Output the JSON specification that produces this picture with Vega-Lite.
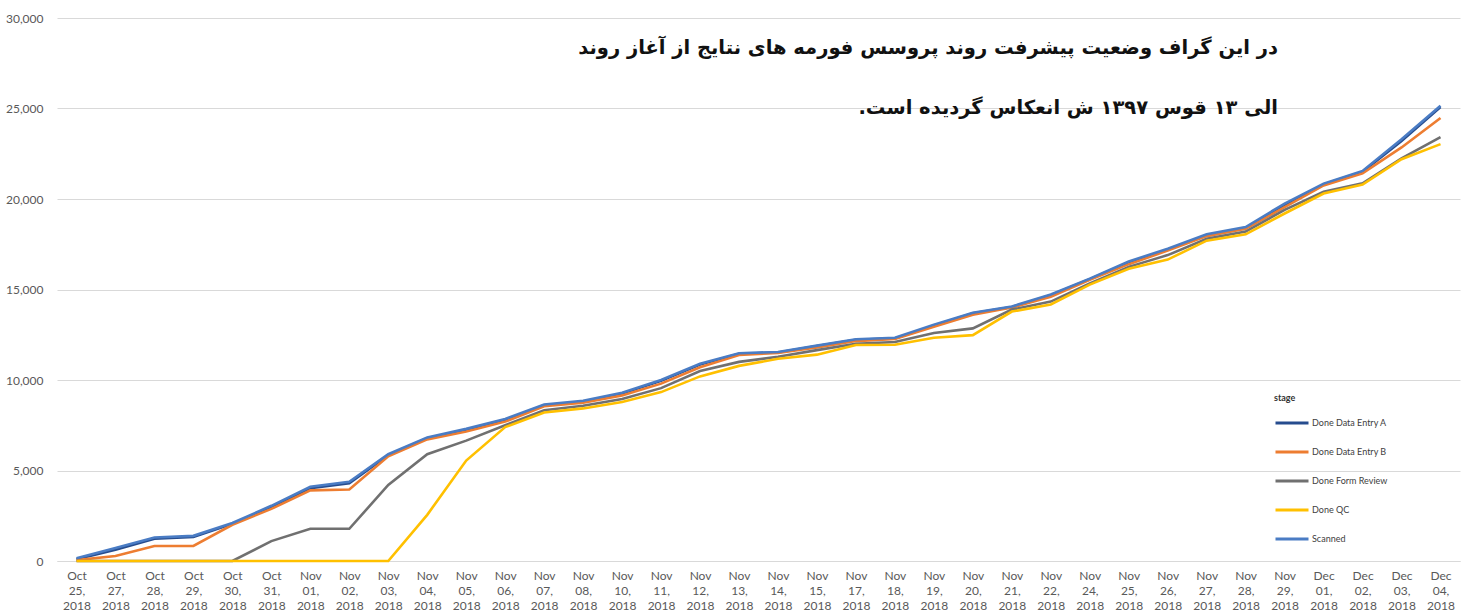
{
  "$schema": "https://vega.github.io/schema/vega-lite/v6.json",
  "width": 1464,
  "height": 613,
  "autosize": {"type": "fit", "contains": "padding"},
  "padding": {"left": 5, "top": 12, "right": 4, "bottom": 2},
  "background": "white",
  "title": {
    "text": ["در این گراف وضعیت پیشرفت روند پروسس فورمه های نتایج از آغاز روند", "الی ۱۳ قوس ۱۳۹۷ ش انعکاس گردیده است.\u200f"],
    "orient": "top",
    "anchor": "end",
    "frame": "group",
    "align": "right",
    "baseline": "top",
    "offset": -106,
    "dx": -182,
    "lineHeight": 60,
    "font": "DejaVu Sans",
    "fontSize": 19.5,
    "fontWeight": "bold",
    "color": "#111111"
  },
  "data": {
    "values": [
      {"date": "Oct 25, 2018", "Done Data Entry A": 100, "Done Data Entry B": 50, "Done Form Review": 0, "Done QC": 0, "Scanned": 150},
      {"date": "Oct 27, 2018", "Done Data Entry A": 620, "Done Data Entry B": 280, "Done Form Review": 0, "Done QC": 0, "Scanned": 720},
      {"date": "Oct 28, 2018", "Done Data Entry A": 1230, "Done Data Entry B": 830, "Done Form Review": 0, "Done QC": 0, "Scanned": 1300},
      {"date": "Oct 29, 2018", "Done Data Entry A": 1330, "Done Data Entry B": 830, "Done Form Review": 0, "Done QC": 0, "Scanned": 1390},
      {"date": "Oct 30, 2018", "Done Data Entry A": 2050, "Done Data Entry B": 2000, "Done Form Review": 0, "Done QC": 0, "Scanned": 2100},
      {"date": "Oct 31, 2018", "Done Data Entry A": 2980, "Done Data Entry B": 2880, "Done Form Review": 1100, "Done QC": 0, "Scanned": 3050},
      {"date": "Nov 01, 2018", "Done Data Entry A": 4020, "Done Data Entry B": 3900, "Done Form Review": 1780, "Done QC": 0, "Scanned": 4100},
      {"date": "Nov 02, 2018", "Done Data Entry A": 4300, "Done Data Entry B": 3950, "Done Form Review": 1780, "Done QC": 0, "Scanned": 4380},
      {"date": "Nov 03, 2018", "Done Data Entry A": 5850, "Done Data Entry B": 5780, "Done Form Review": 4200, "Done QC": 0, "Scanned": 5900},
      {"date": "Nov 04, 2018", "Done Data Entry A": 6780, "Done Data Entry B": 6720, "Done Form Review": 5900, "Done QC": 2550, "Scanned": 6830},
      {"date": "Nov 05, 2018", "Done Data Entry A": 7250, "Done Data Entry B": 7150, "Done Form Review": 6650, "Done QC": 5550, "Scanned": 7300},
      {"date": "Nov 06, 2018", "Done Data Entry A": 7800, "Done Data Entry B": 7700, "Done Form Review": 7500, "Done QC": 7400, "Scanned": 7850},
      {"date": "Nov 07, 2018", "Done Data Entry A": 8600, "Done Data Entry B": 8550, "Done Form Review": 8330, "Done QC": 8200, "Scanned": 8650},
      {"date": "Nov 08, 2018", "Done Data Entry A": 8800, "Done Data Entry B": 8750, "Done Form Review": 8580, "Done QC": 8430, "Scanned": 8850},
      {"date": "Nov 10, 2018", "Done Data Entry A": 9250, "Done Data Entry B": 9150, "Done Form Review": 8950, "Done QC": 8780, "Scanned": 9300},
      {"date": "Nov 11, 2018", "Done Data Entry A": 9950, "Done Data Entry B": 9800, "Done Form Review": 9550, "Done QC": 9330, "Scanned": 10000},
      {"date": "Nov 12, 2018", "Done Data Entry A": 10850, "Done Data Entry B": 10700, "Done Form Review": 10500, "Done QC": 10200, "Scanned": 10900},
      {"date": "Nov 13, 2018", "Done Data Entry A": 11450, "Done Data Entry B": 11380, "Done Form Review": 11000, "Done QC": 10780, "Scanned": 11480},
      {"date": "Nov 14, 2018", "Done Data Entry A": 11520, "Done Data Entry B": 11500, "Done Form Review": 11280, "Done QC": 11170, "Scanned": 11550},
      {"date": "Nov 15, 2018", "Done Data Entry A": 11870, "Done Data Entry B": 11800, "Done Form Review": 11650, "Done QC": 11400, "Scanned": 11900},
      {"date": "Nov 17, 2018", "Done Data Entry A": 12220, "Done Data Entry B": 12150, "Done Form Review": 12000, "Done QC": 11930, "Scanned": 12250},
      {"date": "Nov 18, 2018", "Done Data Entry A": 12300, "Done Data Entry B": 12270, "Done Form Review": 12100, "Done QC": 11950, "Scanned": 12330},
      {"date": "Nov 19, 2018", "Done Data Entry A": 13000, "Done Data Entry B": 12940, "Done Form Review": 12600, "Done QC": 12330, "Scanned": 13060},
      {"date": "Nov 20, 2018", "Done Data Entry A": 13680, "Done Data Entry B": 13600, "Done Form Review": 12850, "Done QC": 12480, "Scanned": 13720},
      {"date": "Nov 21, 2018", "Done Data Entry A": 14030, "Done Data Entry B": 14000, "Done Form Review": 13890, "Done QC": 13780, "Scanned": 14060},
      {"date": "Nov 22, 2018", "Done Data Entry A": 14680, "Done Data Entry B": 14600, "Done Form Review": 14330, "Done QC": 14170, "Scanned": 14720},
      {"date": "Nov 24, 2018", "Done Data Entry A": 15570, "Done Data Entry B": 15530, "Done Form Review": 15330, "Done QC": 15270, "Scanned": 15600},
      {"date": "Nov 25, 2018", "Done Data Entry A": 16500, "Done Data Entry B": 16400, "Done Form Review": 16250, "Done QC": 16150, "Scanned": 16550},
      {"date": "Nov 26, 2018", "Done Data Entry A": 17200, "Done Data Entry B": 17150, "Done Form Review": 16900, "Done QC": 16650, "Scanned": 17250},
      {"date": "Nov 27, 2018", "Done Data Entry A": 18000, "Done Data Entry B": 17950, "Done Form Review": 17800, "Done QC": 17700, "Scanned": 18050},
      {"date": "Nov 28, 2018", "Done Data Entry A": 18400, "Done Data Entry B": 18350, "Done Form Review": 18200, "Done QC": 18050, "Scanned": 18450},
      {"date": "Nov 29, 2018", "Done Data Entry A": 19650, "Done Data Entry B": 19550, "Done Form Review": 19400, "Done QC": 19200, "Scanned": 19750},
      {"date": "Dec 01, 2018", "Done Data Entry A": 20800, "Done Data Entry B": 20750, "Done Form Review": 20400, "Done QC": 20300, "Scanned": 20850},
      {"date": "Dec 02, 2018", "Done Data Entry A": 21500, "Done Data Entry B": 21420, "Done Form Review": 20870, "Done QC": 20800, "Scanned": 21550},
      {"date": "Dec 03, 2018", "Done Data Entry A": 23200, "Done Data Entry B": 22850, "Done Form Review": 22250, "Done QC": 22200, "Scanned": 23300},
      {"date": "Dec 04, 2018", "Done Data Entry A": 25080, "Done Data Entry B": 24480, "Done Form Review": 23420, "Done QC": 23030, "Scanned": 25150}
    ]
  },
  "transform": [
    {"fold": ["Done Data Entry A", "Done Data Entry B", "Done Form Review", "Done QC", "Scanned"], "as": ["stage", "value"]}
  ],
  "mark": {"type": "line", "strokeWidth": 2.6, "interpolate": "linear"},
  "encoding": {
    "x": {
      "field": "date",
      "type": "nominal",
      "sort": null,
      "scale": {"type": "point", "padding": 0.5},
      "axis": {
        "title": null,
        "labelAngle": 0,
        "labelExpr": "split(datum.label, ' ')",
        "labelLineHeight": 15,
        "labelFont": "Lato",
        "labelFontSize": 12,
        "labelColor": "#595959",
        "labelPadding": 9,
        "ticks": false,
        "domain": true,
        "domainColor": "#D9D9D9",
        "grid": false,
        "labelOverlap": false
      }
    },
    "y": {
      "field": "value",
      "type": "quantitative",
      "scale": {"domain": [0, 30000], "nice": false},
      "axis": {
        "title": null,
        "values": [0, 5000, 10000, 15000, 20000, 25000, 30000],
        "format": ",d",
        "labelFont": "Lato",
        "labelFontSize": 12,
        "labelColor": "#595959",
        "labelPadding": 14,
        "ticks": false,
        "domain": false,
        "grid": true,
        "gridColor": "#D9D9D9",
        "gridWidth": 1
      }
    },
    "color": {
      "field": "stage",
      "type": "nominal",
      "scale": {
        "domain": ["Done Data Entry A", "Done Data Entry B", "Done Form Review", "Done QC", "Scanned"],
        "range": ["#264C8E", "#ED7D31", "#707070", "#FFC000", "#4A7CC4"]
      },
      "legend": {
        "orient": "none",
        "legendX": 1213,
        "legendY": 372,
        "title": "stage",
        "titleFont": "Lato",
        "titleFontSize": 9,
        "titleFontWeight": "bold",
        "titleColor": "#333333",
        "titlePadding": 2,
        "labelFont": "Lato",
        "labelFontSize": 9,
        "labelColor": "#404040",
        "labelOffset": 2,
        "symbolType": "stroke",
        "symbolStrokeWidth": 3,
        "symbolSize": 1089,
        "rowPadding": 5,
        "padding": 4
      }
    }
  },
  "config": {
    "view": {"stroke": null}
  }
}
